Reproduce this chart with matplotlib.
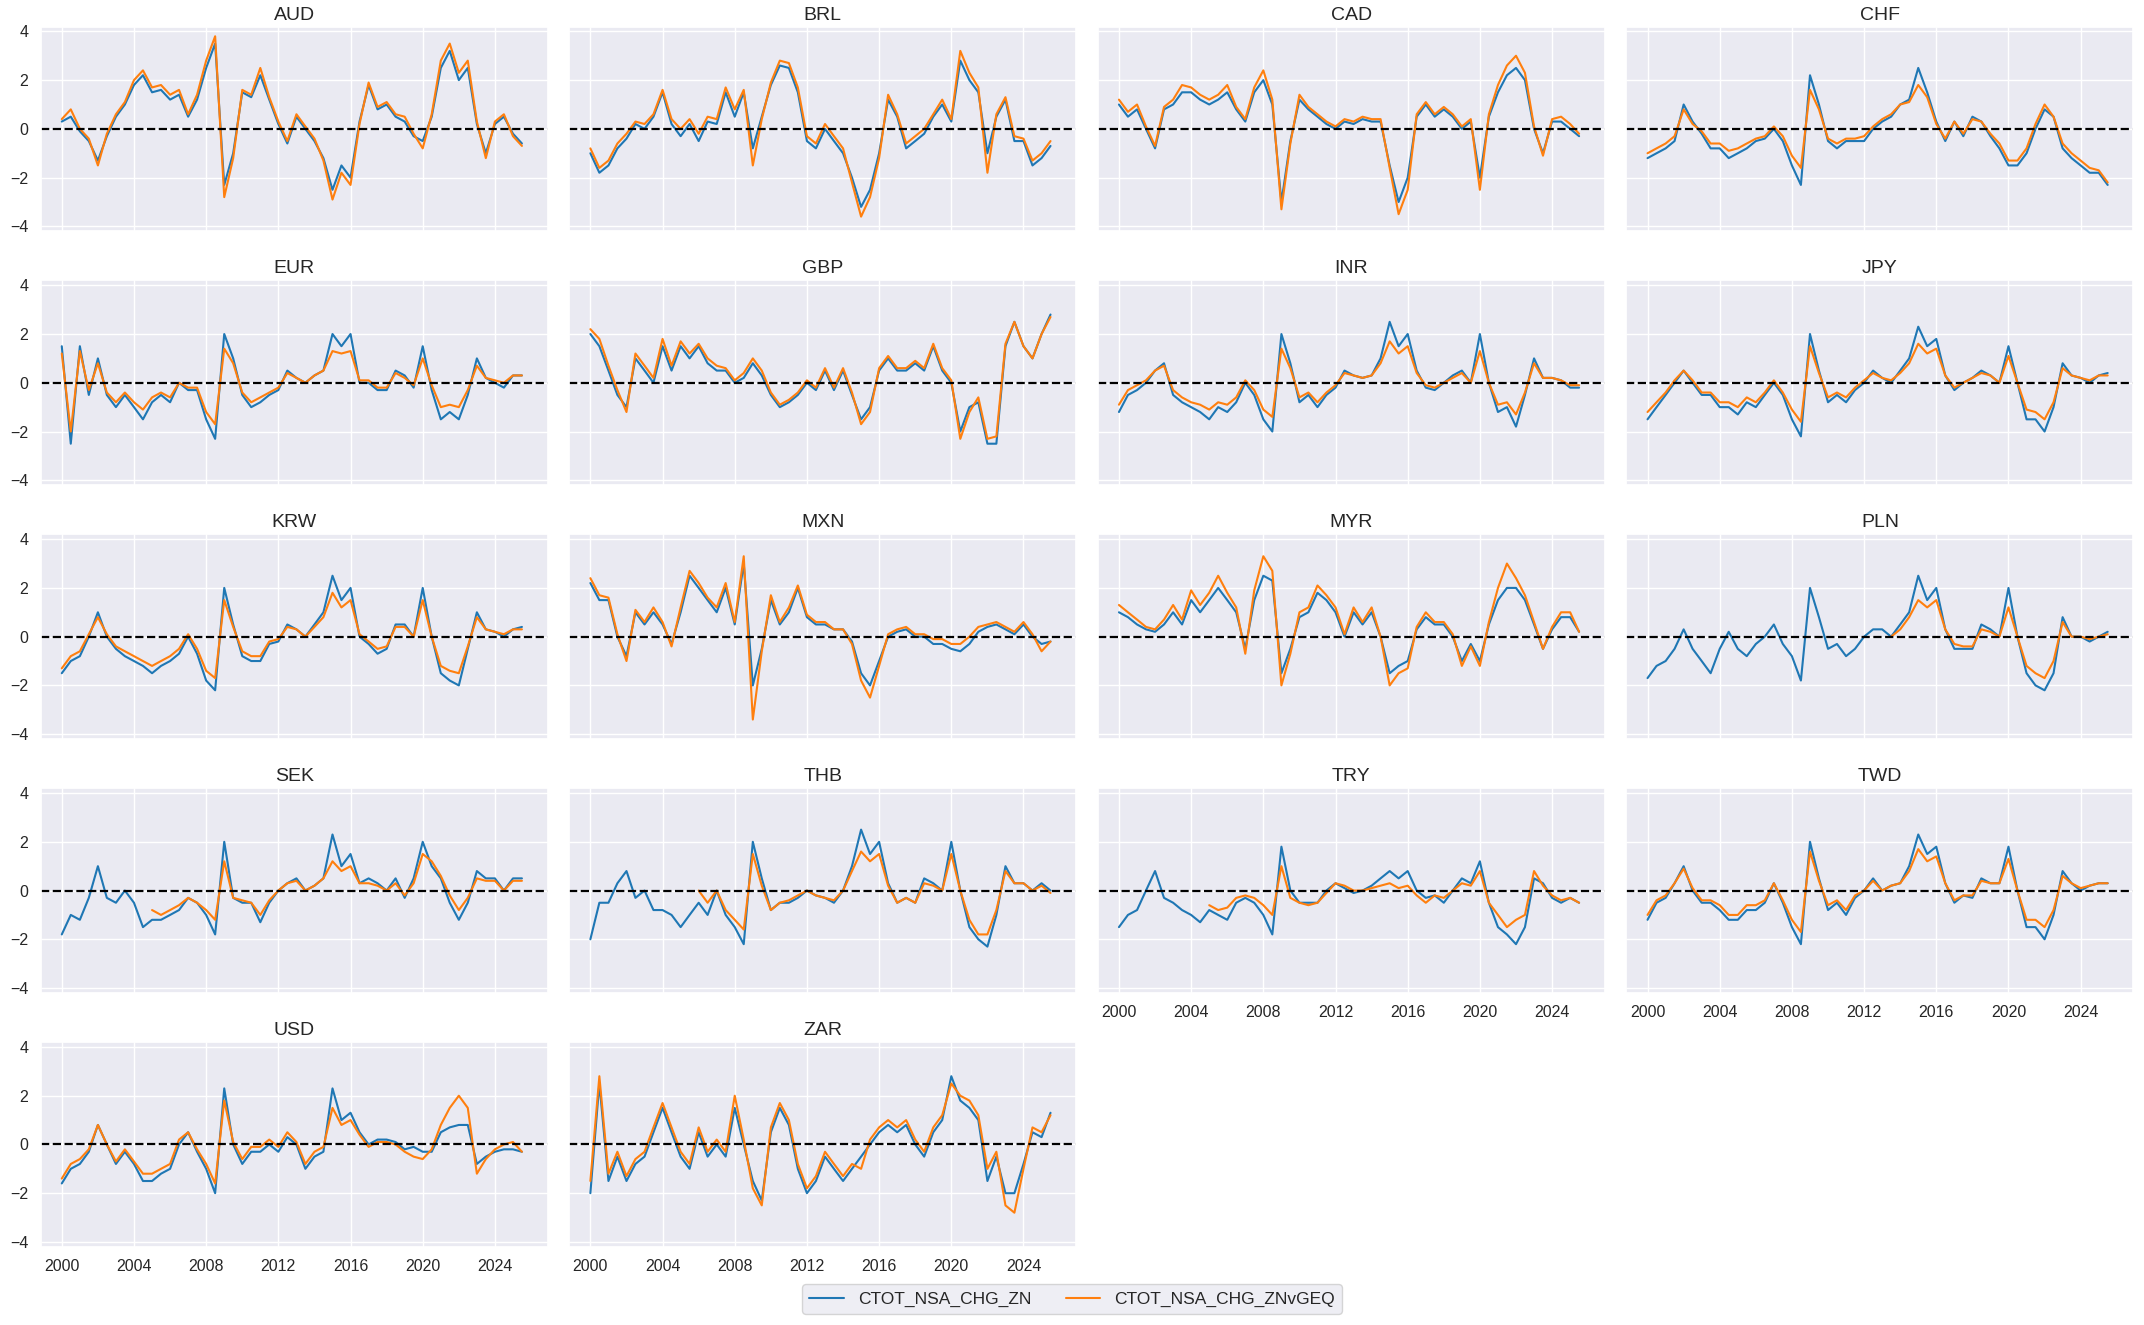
import numpy as np
import pandas as pd
import matplotlib
matplotlib.use("Agg")
import matplotlib.pyplot as plt
import matplotlib.dates as mdates
import seaborn as sns

# Semi-annual readings (Jan / Jul), 2000-01 .. 2025-07
dates = pd.date_range("2000-01-01", periods=52, freq="6MS")

currencies = ["AUD", "BRL", "CAD", "CHF", "EUR", "GBP", "INR", "JPY", "KRW",
              "MXN", "MYR", "PLN", "SEK", "THB", "TRY", "TWD", "USD", "ZAR"]

# CTOT_NSA_CHG_ZN
aud_zn = [0.3, 0.5, -0.1, -0.5, -1.3, -0.3, 0.5, 1.0, 1.8, 2.2,
          1.5, 1.6, 1.2, 1.4, 0.5, 1.2, 2.5, 3.5, -2.3, -1.0,
          1.5, 1.3, 2.2, 1.2, 0.2, -0.6, 0.5, 0.0, -0.5, -1.2,
          -2.5, -1.5, -2.0, 0.3, 1.8, 0.8, 1.0, 0.5, 0.3, -0.3,
          -0.5, 0.5, 2.5, 3.2, 2.0, 2.5, 0.2, -1.0, 0.2, 0.5,
          -0.2, -0.6]
brl_zn = [-1.0, -1.8, -1.5, -0.8, -0.4, 0.2, 0.0, 0.5, 1.5, 0.2,
          -0.3, 0.2, -0.5, 0.3, 0.2, 1.5, 0.5, 1.5, -0.8, 0.5,
          1.8, 2.6, 2.5, 1.5, -0.5, -0.8, 0.0, -0.5, -1.0, -2.0,
          -3.2, -2.5, -1.0, 1.2, 0.5, -0.8, -0.5, -0.2, 0.5, 1.0,
          0.3, 2.8, 2.0, 1.5, -1.0, 0.5, 1.2, -0.5, -0.5, -1.5,
          -1.2, -0.7]
cad_zn = [1.0, 0.5, 0.8, 0.0, -0.8, 0.8, 1.0, 1.5, 1.5, 1.2,
          1.0, 1.2, 1.5, 0.8, 0.3, 1.5, 2.0, 1.0, -3.0, -0.5,
          1.2, 0.8, 0.5, 0.2, 0.0, 0.3, 0.2, 0.4, 0.3, 0.3,
          -1.5, -3.0, -2.0, 0.5, 1.0, 0.5, 0.8, 0.5, 0.0, 0.3,
          -2.0, 0.5, 1.5, 2.2, 2.5, 2.0, 0.0, -1.0, 0.3, 0.3,
          0.0, -0.3]
chf_zn = [-1.2, -1.0, -0.8, -0.5, 1.0, 0.3, -0.2, -0.8, -0.8, -1.2,
          -1.0, -0.8, -0.5, -0.4, 0.0, -0.5, -1.5, -2.3, 2.2, 1.0,
          -0.5, -0.8, -0.5, -0.5, -0.5, 0.0, 0.3, 0.5, 1.0, 1.2,
          2.5, 1.5, 0.3, -0.5, 0.3, -0.3, 0.5, 0.3, -0.3, -0.8,
          -1.5, -1.5, -1.0, 0.0, 0.8, 0.5, -0.8, -1.2, -1.5, -1.8,
          -1.8, -2.3]
eur_zn = [1.5, -2.5, 1.5, -0.5, 1.0, -0.5, -1.0, -0.5, -1.0, -1.5,
          -0.8, -0.5, -0.8, 0.0, -0.3, -0.3, -1.5, -2.3, 2.0, 1.0,
          -0.5, -1.0, -0.8, -0.5, -0.3, 0.5, 0.2, 0.0, 0.3, 0.5,
          2.0, 1.5, 2.0, 0.0, 0.0, -0.3, -0.3, 0.5, 0.3, -0.2,
          1.5, -0.3, -1.5, -1.2, -1.5, -0.5, 1.0, 0.2, 0.0, -0.2,
          0.3, 0.3]
gbp_zn = [2.0, 1.5, 0.5, -0.5, -1.0, 1.0, 0.5, 0.0, 1.5, 0.5,
          1.5, 1.0, 1.5, 0.8, 0.5, 0.5, 0.0, 0.2, 0.8, 0.3,
          -0.5, -1.0, -0.8, -0.5, 0.0, -0.3, 0.5, -0.3, 0.5, -0.5,
          -1.5, -1.0, 0.5, 1.0, 0.5, 0.5, 0.8, 0.5, 1.5, 0.5,
          0.0, -2.0, -1.0, -0.8, -2.5, -2.5, 1.5, 2.5, 1.5, 1.0,
          2.0, 2.8]
inr_zn = [-1.2, -0.5, -0.3, 0.0, 0.5, 0.8, -0.5, -0.8, -1.0, -1.2,
          -1.5, -1.0, -1.2, -0.8, 0.0, -0.5, -1.5, -2.0, 2.0, 0.8,
          -0.8, -0.5, -1.0, -0.5, -0.2, 0.5, 0.3, 0.2, 0.3, 1.0,
          2.5, 1.5, 2.0, 0.5, -0.2, -0.3, 0.0, 0.3, 0.5, 0.0,
          2.0, 0.0, -1.2, -1.0, -1.8, -0.5, 1.0, 0.2, 0.2, 0.1,
          -0.2, -0.2]
jpy_zn = [-1.5, -1.0, -0.5, 0.0, 0.5, 0.0, -0.5, -0.5, -1.0, -1.0,
          -1.3, -0.8, -1.0, -0.5, 0.0, -0.5, -1.5, -2.2, 2.0, 0.5,
          -0.8, -0.5, -0.8, -0.3, 0.0, 0.5, 0.2, 0.0, 0.5, 1.0,
          2.3, 1.5, 1.8, 0.3, -0.3, 0.0, 0.2, 0.5, 0.3, 0.0,
          1.5, 0.0, -1.5, -1.5, -2.0, -1.0, 0.8, 0.3, 0.2, 0.0,
          0.3, 0.4]
krw_zn = [-1.5, -1.0, -0.8, 0.0, 1.0, 0.0, -0.5, -0.8, -1.0, -1.2,
          -1.5, -1.2, -1.0, -0.7, 0.0, -0.7, -1.8, -2.2, 2.0, 0.5,
          -0.8, -1.0, -1.0, -0.3, -0.2, 0.5, 0.3, 0.0, 0.5, 1.0,
          2.5, 1.5, 2.0, 0.0, -0.3, -0.7, -0.5, 0.5, 0.5, 0.0,
          2.0, 0.0, -1.5, -1.8, -2.0, -0.5, 1.0, 0.3, 0.2, 0.0,
          0.3, 0.4]
mxn_zn = [2.2, 1.5, 1.5, 0.0, -0.8, 1.0, 0.5, 1.0, 0.5, -0.3,
          1.0, 2.5, 2.0, 1.5, 1.0, 2.0, 0.5, 3.0, -2.0, -0.5,
          1.5, 0.5, 1.0, 2.0, 0.8, 0.5, 0.5, 0.3, 0.3, -0.2,
          -1.5, -2.0, -1.0, 0.0, 0.2, 0.3, 0.0, 0.0, -0.3, -0.3,
          -0.5, -0.6, -0.3, 0.2, 0.4, 0.5, 0.3, 0.1, 0.5, 0.0,
          -0.3, -0.2]
myr_zn = [1.0, 0.8, 0.5, 0.3, 0.2, 0.5, 1.0, 0.5, 1.5, 1.0,
          1.5, 2.0, 1.5, 1.0, -0.5, 1.5, 2.5, 2.3, -1.5, -0.5,
          0.8, 1.0, 1.8, 1.5, 1.0, 0.0, 1.0, 0.5, 1.0, 0.0,
          -1.5, -1.2, -1.0, 0.3, 0.8, 0.5, 0.5, 0.0, -1.0, -0.3,
          -1.0, 0.5, 1.5, 2.0, 2.0, 1.5, 0.5, -0.5, 0.3, 0.8,
          0.8, 0.2]
pln_zn = [-1.7, -1.2, -1.0, -0.5, 0.3, -0.5, -1.0, -1.5, -0.5, 0.2,
          -0.5, -0.8, -0.3, 0.0, 0.5, -0.3, -0.8, -1.8, 2.0, 0.8,
          -0.5, -0.3, -0.8, -0.5, 0.0, 0.3, 0.3, 0.0, 0.5, 1.0,
          2.5, 1.5, 2.0, 0.3, -0.5, -0.5, -0.5, 0.5, 0.3, 0.0,
          2.0, 0.0, -1.5, -2.0, -2.2, -1.5, 0.8, 0.0, 0.0, -0.2,
          0.0, 0.2]
sek_zn = [-1.8, -1.0, -1.2, -0.3, 1.0, -0.3, -0.5, 0.0, -0.5, -1.5,
          -1.2, -1.2, -1.0, -0.8, -0.3, -0.5, -1.0, -1.8, 2.0, -0.3,
          -0.5, -0.5, -1.3, -0.5, 0.0, 0.3, 0.5, 0.0, 0.2, 0.5,
          2.3, 1.0, 1.5, 0.3, 0.5, 0.3, 0.0, 0.5, -0.3, 0.5,
          2.0, 1.0, 0.5, -0.5, -1.2, -0.5, 0.8, 0.5, 0.5, 0.0,
          0.5, 0.5]
thb_zn = [-2.0, -0.5, -0.5, 0.3, 0.8, -0.3, 0.0, -0.8, -0.8, -1.0,
          -1.5, -1.0, -0.5, -1.0, 0.0, -1.0, -1.5, -2.2, 2.0, 0.5,
          -0.8, -0.5, -0.5, -0.3, 0.0, -0.2, -0.3, -0.5, 0.0, 1.0,
          2.5, 1.5, 2.0, 0.3, -0.5, -0.3, -0.5, 0.5, 0.3, 0.0,
          2.0, 0.0, -1.5, -2.0, -2.3, -1.0, 1.0, 0.3, 0.3, 0.0,
          0.3, 0.0]
try_zn = [-1.5, -1.0, -0.8, 0.0, 0.8, -0.3, -0.5, -0.8, -1.0, -1.3,
          -0.8, -1.0, -1.2, -0.5, -0.3, -0.5, -1.0, -1.8, 1.8, 0.0,
          -0.5, -0.5, -0.5, 0.0, 0.3, 0.1, -0.1, 0.0, 0.2, 0.5,
          0.8, 0.5, 0.8, 0.0, -0.3, -0.2, -0.5, 0.0, 0.5, 0.3,
          1.2, -0.5, -1.5, -1.8, -2.2, -1.5, 0.5, 0.3, -0.3, -0.5,
          -0.3, -0.5]
twd_zn = [-1.2, -0.5, -0.3, 0.3, 1.0, 0.0, -0.5, -0.5, -0.8, -1.2,
          -1.2, -0.8, -0.8, -0.5, 0.3, -0.5, -1.5, -2.2, 2.0, 0.5,
          -0.8, -0.5, -1.0, -0.3, 0.0, 0.5, 0.0, 0.2, 0.3, 1.0,
          2.3, 1.5, 1.8, 0.3, -0.5, -0.2, -0.3, 0.5, 0.3, 0.3,
          1.8, 0.0, -1.5, -1.5, -2.0, -1.0, 0.8, 0.3, 0.0, 0.2,
          0.3, 0.3]
usd_zn = [-1.6, -1.0, -0.8, -0.3, 0.8, 0.0, -0.8, -0.3, -0.8, -1.5,
          -1.5, -1.2, -1.0, 0.0, 0.5, -0.3, -1.0, -2.0, 2.3, 0.0,
          -0.8, -0.3, -0.3, 0.0, -0.3, 0.3, 0.0, -1.0, -0.5, -0.3,
          2.3, 1.0, 1.3, 0.5, 0.0, 0.2, 0.2, 0.1, -0.2, -0.1,
          -0.3, -0.3, 0.5, 0.7, 0.8, 0.8, -0.8, -0.5, -0.3, -0.2,
          -0.2, -0.3]
zar_zn = [-2.0, 2.5, -1.5, -0.5, -1.5, -0.8, -0.5, 0.5, 1.5, 0.5,
          -0.5, -1.0, 0.5, -0.5, 0.0, -0.5, 1.5, 0.0, -1.5, -2.3,
          0.5, 1.5, 0.8, -1.0, -2.0, -1.5, -0.5, -1.0, -1.5, -1.0,
          -0.5, 0.0, 0.5, 0.8, 0.5, 0.8, 0.0, -0.5, 0.5, 1.0,
          2.8, 1.8, 1.5, 1.0, -1.5, -0.5, -2.0, -2.0, -0.8, 0.5,
          0.3, 1.3]

# CTOT_NSA_CHG_ZNvGEQ (None = not available yet)
aud_geq = [0.4, 0.8, 0.0, -0.4, -1.5, -0.2, 0.6, 1.1, 2.0, 2.4,
           1.7, 1.8, 1.4, 1.6, 0.6, 1.4, 2.8, 3.8, -2.8, -1.2,
           1.6, 1.4, 2.5, 1.3, 0.3, -0.5, 0.6, 0.1, -0.4, -1.3,
           -2.9, -1.8, -2.3, 0.2, 1.9, 0.9, 1.1, 0.6, 0.5, -0.2,
           -0.8, 0.6, 2.8, 3.5, 2.3, 2.8, 0.3, -1.2, 0.3, 0.6,
           -0.3, -0.7]
brl_geq = [-0.8, -1.6, -1.3, -0.6, -0.2, 0.3, 0.2, 0.6, 1.6, 0.4,
           0.0, 0.4, -0.2, 0.5, 0.4, 1.7, 0.8, 1.6, -1.5, 0.4,
           1.9, 2.8, 2.7, 1.7, -0.3, -0.6, 0.2, -0.3, -0.8, -2.2,
           -3.6, -2.8, -1.2, 1.4, 0.6, -0.6, -0.3, 0.0, 0.6, 1.2,
           0.4, 3.2, 2.3, 1.7, -1.8, 0.6, 1.3, -0.3, -0.4, -1.3,
           -1.0, -0.5]
cad_geq = [1.2, 0.7, 1.0, 0.1, -0.7, 0.9, 1.2, 1.8, 1.7, 1.4,
           1.2, 1.4, 1.8, 0.9, 0.4, 1.7, 2.4, 1.2, -3.3, -0.6,
           1.4, 0.9, 0.6, 0.3, 0.1, 0.4, 0.3, 0.5, 0.4, 0.4,
           -1.6, -3.5, -2.5, 0.6, 1.1, 0.6, 0.9, 0.6, 0.1, 0.4,
           -2.5, 0.6, 1.8, 2.6, 3.0, 2.3, 0.1, -1.1, 0.4, 0.5,
           0.2, -0.2]
chf_geq = [-1.0, -0.8, -0.6, -0.3, 0.8, 0.2, -0.1, -0.6, -0.6, -0.9,
           -0.8, -0.6, -0.4, -0.3, 0.1, -0.3, -1.1, -1.6, 1.6, 0.8,
           -0.4, -0.6, -0.4, -0.4, -0.3, 0.1, 0.4, 0.6, 1.0, 1.1,
           1.8, 1.3, 0.2, -0.4, 0.3, -0.2, 0.4, 0.3, -0.2, -0.6,
           -1.3, -1.3, -0.8, 0.2, 1.0, 0.5, -0.6, -1.0, -1.3, -1.6,
           -1.7, -2.2]
eur_geq = [1.2, -2.0, 1.3, -0.3, 0.8, -0.4, -0.8, -0.4, -0.8, -1.1,
           -0.6, -0.4, -0.6, 0.0, -0.2, -0.2, -1.2, -1.7, 1.4, 0.8,
           -0.4, -0.8, -0.6, -0.4, -0.2, 0.4, 0.2, 0.0, 0.3, 0.5,
           1.3, 1.2, 1.3, 0.1, 0.1, -0.2, -0.2, 0.4, 0.2, -0.1,
           1.0, -0.1, -1.0, -0.9, -1.0, -0.3, 0.7, 0.2, 0.1, 0.0,
           0.3, 0.3]
gbp_geq = [2.2, 1.8, 0.7, -0.3, -1.2, 1.2, 0.7, 0.2, 1.8, 0.7,
           1.7, 1.2, 1.6, 1.0, 0.7, 0.6, 0.1, 0.4, 1.0, 0.5,
           -0.4, -0.9, -0.7, -0.4, 0.1, -0.2, 0.6, -0.2, 0.6, -0.4,
           -1.7, -1.2, 0.6, 1.1, 0.6, 0.6, 0.9, 0.6, 1.6, 0.6,
           0.1, -2.3, -1.2, -0.6, -2.3, -2.2, 1.6, 2.5, 1.5, 1.0,
           2.0, 2.7]
inr_geq = [-0.9, -0.3, -0.1, 0.1, 0.5, 0.7, -0.3, -0.6, -0.8, -0.9,
           -1.1, -0.8, -0.9, -0.6, 0.1, -0.3, -1.1, -1.4, 1.4, 0.6,
           -0.6, -0.4, -0.8, -0.4, -0.1, 0.4, 0.3, 0.2, 0.3, 0.8,
           1.7, 1.2, 1.5, 0.4, -0.1, -0.2, 0.0, 0.2, 0.4, 0.0,
           1.3, 0.0, -0.9, -0.8, -1.3, -0.4, 0.8, 0.2, 0.2, 0.1,
           -0.1, -0.1]
jpy_geq = [-1.2, -0.8, -0.4, 0.1, 0.5, 0.1, -0.4, -0.4, -0.8, -0.8,
           -1.0, -0.6, -0.8, -0.4, 0.1, -0.4, -1.1, -1.6, 1.5, 0.4,
           -0.6, -0.4, -0.6, -0.2, 0.1, 0.4, 0.2, 0.1, 0.4, 0.8,
           1.6, 1.2, 1.4, 0.3, -0.2, 0.0, 0.2, 0.4, 0.3, 0.0,
           1.1, 0.0, -1.1, -1.2, -1.5, -0.8, 0.6, 0.3, 0.2, 0.1,
           0.3, 0.3]
krw_geq = [-1.3, -0.8, -0.6, 0.1, 0.8, 0.1, -0.4, -0.6, -0.8, -1.0,
           -1.2, -1.0, -0.8, -0.5, 0.1, -0.5, -1.4, -1.7, 1.5, 0.4,
           -0.6, -0.8, -0.8, -0.2, -0.1, 0.4, 0.3, 0.0, 0.4, 0.8,
           1.8, 1.2, 1.5, 0.1, -0.2, -0.5, -0.4, 0.4, 0.4, 0.0,
           1.5, 0.0, -1.2, -1.4, -1.5, -0.4, 0.8, 0.3, 0.2, 0.1,
           0.3, 0.3]
mxn_geq = [2.4, 1.7, 1.6, 0.1, -1.0, 1.1, 0.6, 1.2, 0.6, -0.4,
           1.2, 2.7, 2.2, 1.6, 1.2, 2.2, 0.6, 3.3, -3.4, -0.6,
           1.7, 0.6, 1.2, 2.1, 0.9, 0.6, 0.6, 0.3, 0.3, -0.3,
           -1.8, -2.5, -1.2, 0.1, 0.3, 0.4, 0.1, 0.1, -0.1, -0.1,
           -0.3, -0.3, 0.0, 0.4, 0.5, 0.6, 0.4, 0.2, 0.6, 0.1,
           -0.6, -0.2]
myr_geq = [1.3, 1.0, 0.7, 0.4, 0.3, 0.7, 1.3, 0.7, 1.9, 1.3,
           1.8, 2.5, 1.8, 1.2, -0.7, 1.9, 3.3, 2.7, -2.0, -0.7,
           1.0, 1.2, 2.1, 1.7, 1.2, 0.1, 1.2, 0.6, 1.2, 0.0,
           -2.0, -1.5, -1.3, 0.4, 1.0, 0.6, 0.6, 0.1, -1.2, -0.4,
           -1.2, 0.6, 2.0, 3.0, 2.4, 1.7, 0.6, -0.5, 0.4, 1.0,
           1.0, 0.2]
pln_geq = [None] * 27 + [
           0.0, 0.3, 0.8, 1.5, 1.2, 1.5, 0.3, -0.3, -0.4, -0.4,
           0.3, 0.2, 0.0, 1.2, 0.0, -1.2, -1.5, -1.7, -1.0, 0.6,
           0.0, 0.0, -0.1, 0.0, 0.1]
sek_geq = [None] * 10 + [
           -0.8, -1.0, -0.8, -0.6, -0.3, -0.5, -0.8, -1.2, 1.2, -0.3,
           -0.4, -0.5, -1.0, -0.4, 0.0, 0.3, 0.4, 0.0, 0.2, 0.5,
           1.2, 0.8, 1.0, 0.3, 0.3, 0.2, 0.0, 0.3, -0.2, 0.3,
           1.5, 1.2, 0.6, -0.2, -0.8, -0.3, 0.5, 0.4, 0.4, 0.0,
           0.4, 0.4]
thb_geq = [None] * 12 + [
           0.0, -0.5, 0.0, -0.8, -1.2, -1.6, 1.5, 0.2, -0.8, -0.5,
           -0.4, -0.2, 0.0, -0.2, -0.3, -0.4, 0.0, 0.8, 1.6, 1.2,
           1.5, 0.2, -0.5, -0.3, -0.5, 0.3, 0.2, 0.0, 1.5, 0.0,
           -1.2, -1.8, -1.8, -0.8, 0.8, 0.3, 0.3, 0.0, 0.2, -0.1]
try_geq = [None] * 10 + [
           -0.6, -0.8, -0.7, -0.3, -0.2, -0.3, -0.6, -1.0, 1.0, -0.3,
           -0.5, -0.6, -0.5, -0.1, 0.3, 0.2, 0.0, 0.0, 0.1, 0.2,
           0.3, 0.1, 0.2, -0.2, -0.5, -0.2, -0.3, 0.0, 0.3, 0.2,
           0.8, -0.5, -1.0, -1.5, -1.2, -1.0, 0.8, 0.2, -0.2, -0.4,
           -0.3, -0.5]
twd_geq = [-1.0, -0.4, -0.2, 0.3, 0.9, 0.1, -0.4, -0.4, -0.6, -1.0,
           -1.0, -0.6, -0.6, -0.4, 0.3, -0.4, -1.2, -1.7, 1.6, 0.4,
           -0.6, -0.4, -0.8, -0.2, 0.0, 0.4, 0.0, 0.2, 0.3, 0.8,
           1.7, 1.2, 1.4, 0.3, -0.4, -0.2, -0.2, 0.4, 0.3, 0.3,
           1.3, 0.0, -1.2, -1.2, -1.5, -0.8, 0.6, 0.3, 0.1, 0.2,
           0.3, 0.3]
usd_geq = [-1.4, -0.8, -0.6, -0.2, 0.8, 0.0, -0.7, -0.2, -0.7, -1.2,
           -1.2, -1.0, -0.8, 0.2, 0.5, -0.2, -0.8, -1.6, 1.8, 0.1,
           -0.6, -0.1, -0.1, 0.2, -0.1, 0.5, 0.1, -0.8, -0.3, -0.1,
           1.5, 0.8, 1.0, 0.4, -0.1, 0.1, 0.1, 0.0, -0.3, -0.5,
           -0.6, -0.2, 0.8, 1.5, 2.0, 1.5, -1.2, -0.6, -0.2, 0.0,
           0.1, -0.3]
zar_geq = [-1.5, 2.8, -1.2, -0.3, -1.3, -0.6, -0.3, 0.7, 1.7, 0.7,
           -0.3, -0.8, 0.7, -0.3, 0.2, -0.3, 2.0, 0.2, -1.8, -2.5,
           0.7, 1.7, 1.0, -0.8, -1.8, -1.3, -0.3, -0.8, -1.3, -0.8,
           -1.0, 0.2, 0.7, 1.0, 0.7, 1.0, 0.2, -0.3, 0.7, 1.2,
           2.5, 2.0, 1.8, 1.2, -1.0, -0.3, -2.5, -2.8, -1.0, 0.7,
           0.5, 1.2]

zn = [aud_zn, brl_zn, cad_zn, chf_zn, eur_zn, gbp_zn, inr_zn, jpy_zn, krw_zn,
      mxn_zn, myr_zn, pln_zn, sek_zn, thb_zn, try_zn, twd_zn, usd_zn, zar_zn]
geq = [aud_geq, brl_geq, cad_geq, chf_geq, eur_geq, gbp_geq, inr_geq, jpy_geq, krw_geq,
       mxn_geq, myr_geq, pln_geq, sek_geq, thb_geq, try_geq, twd_geq, usd_geq, zar_geq]

sns.set_theme(style="darkgrid")
plt.rcParams["font.family"] = ["Liberation Sans", "DejaVu Sans"]

fig, axes = plt.subplots(5, 4, figsize=(21.44, 13.25), dpi=100, sharex=True, sharey=True)
plt.subplots_adjust(left=0.019, right=0.995, top=0.980, bottom=0.059,
                    wspace=0.043, hspace=0.24)

for i, cid in enumerate(currencies):
    ax = axes.flat[i]
    a = np.array(zn[i], dtype=float)
    b = np.array(geq[i], dtype=float)
    ax.plot(dates[:len(a)], a, color="#1f77b4", lw=1.5, label="CTOT_NSA_CHG_ZN")
    ax.plot(dates[:len(b)], b, color="#ff7f0e", lw=1.5, label="CTOT_NSA_CHG_ZNvGEQ")
    ax.axhline(0, color="black", ls="--", lw=1.6)
    ax.set_title(cid, fontsize=14, pad=5)
    ax.tick_params(labelsize=11.5, pad=3)

axes[4, 2].remove()
axes[4, 3].remove()
axes[3, 2].xaxis.set_tick_params(labelbottom=True)
axes[3, 3].xaxis.set_tick_params(labelbottom=True)

ax0 = axes[0, 0]
ax0.set_ylim(-4.2, 4.2)
ax0.set_yticks([-4, -2, 0, 2, 4])
ax0.set_xlim(pd.Timestamp("1998-11-01"), pd.Timestamp("2026-12-01"))
ax0.xaxis.set_major_locator(mdates.YearLocator(4))
ax0.xaxis.set_major_formatter(mdates.DateFormatter("%Y"))

handles, labels = ax0.get_legend_handles_labels()
leg = fig.legend(handles, labels, loc="lower center", ncol=2, bbox_to_anchor=(0.5, 0.002),
                 fontsize=12.5, frameon=True, columnspacing=2.0)
leg.get_frame().set_facecolor("#EAEAF2")
leg.get_frame().set_edgecolor("#cccccc")

fig.savefig("out.png", dpi=100)
